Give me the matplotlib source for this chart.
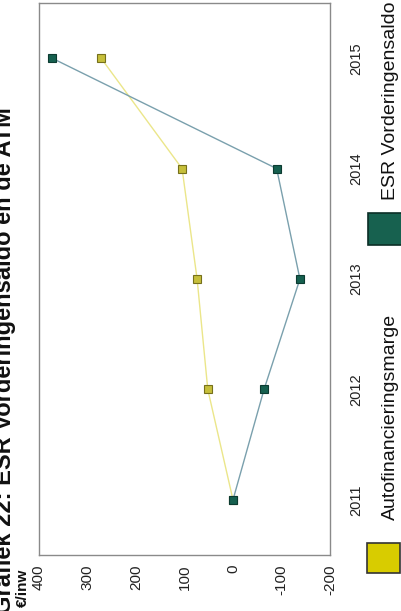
import matplotlib
matplotlib.use('Agg')
import matplotlib.pyplot as plt
from matplotlib.patches import Rectangle

plt.rcParams['font.family'] = ['Liberation Sans', 'DejaVu Sans']

years = [2011, 2012, 2013, 2014, 2015]
esr_saldo = [0, -64, -138, -90, 373]
autofin_marge = [0, 52, 74, 105, 272]
value_ticks = [400, 300, 200, 100, 0, -100, -200]

W, H = 402, 611
fig = plt.figure(figsize=(W / 100, H / 100), dpi=100)

# scanned page is turned a quarter: values run right-to-left, years bottom-to-top
ax = fig.add_axes([39 / W, 1 - 555 / H, (330 - 39) / W, (555 - 3) / H])
ax.plot(autofin_marge, years, color='#ebe68a', lw=1.0, zorder=2,
        marker='s', markersize=6, markerfacecolor='#c6bf3a', markeredgecolor='#76701c', markeredgewidth=0.8)
ax.plot(esr_saldo, years, color='#7aa0ad', lw=1.0, zorder=3,
        marker='s', markersize=6, markerfacecolor='#16604f', markeredgecolor='#0c3b31', markeredgewidth=0.8)

ax.set_xlim(400, -200)
ax.set_ylim(2010.5, 2015.5)
ax.set_xticks(value_ticks)
ax.set_xticklabels([str(v) for v in value_ticks], rotation=90, fontsize=11, color='#222222')
ax.set_yticks(years)
ax.set_yticklabels([str(y) for y in years], rotation=90, fontsize=10.5, va='center', color='#222222')
ax.yaxis.tick_right()
ax.tick_params(axis='both', length=0)
ax.tick_params(axis='x', pad=7)
ax.tick_params(axis='y', pad=14)
for s in ax.spines.values():
    s.set_color('#8a8a8a')
    s.set_linewidth(1.0)

# title and unit, cut off at the page edge like the scan
fig.text(16 / W, 1 - 107 / H, 'Grafiek 22: ESR Vorderingensaldo en de ATM', rotation=90,
         ha='right', va='top', fontsize=17, fontweight='bold', color='#111111')
fig.text(30 / W, 1 - 607 / H, '€/inw', rotation=90, ha='right', va='bottom',
         fontsize=11, fontweight='bold', color='#111111')

# legend
fig.patches.append(Rectangle((367 / W, 1 - 573 / H), 33 / W, 30 / H, transform=fig.transFigure,
                             facecolor='#d8cc00', edgecolor='#333333', lw=1.2))
fig.patches.append(Rectangle((368 / W, 1 - 245 / H), 34 / W, 32 / H, transform=fig.transFigure,
                             facecolor='#17614f', edgecolor='#0b2e26', lw=1.2))
fig.text(399 / W, 1 - 520 / H, 'Autofinancieringsmarge', rotation=90, ha='right', va='bottom',
         fontsize=14, color='#111111')
fig.text(399 / W, 1 - 200 / H, 'ESR Vorderingensaldo', rotation=90, ha='right', va='bottom',
         fontsize=14, color='#111111')

fig.savefig('out.png', dpi=100)
